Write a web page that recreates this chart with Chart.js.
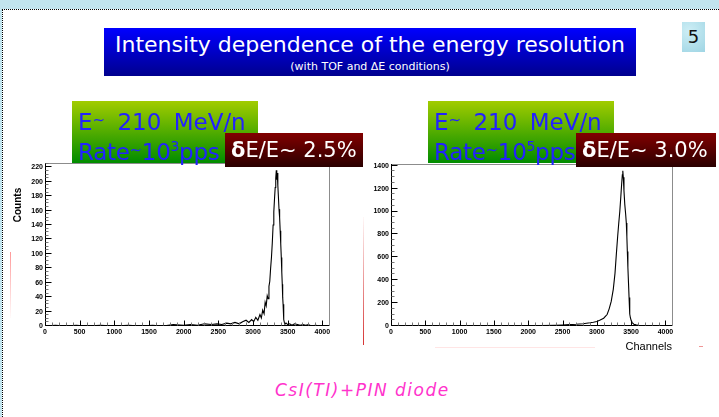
<!DOCTYPE html>
<html>
<head>
<meta charset="utf-8">
<script src="https://cdn.jsdelivr.net/npm/chart.js@4.4.1/dist/chart.umd.min.js"></script>
<style>
  html, body { margin: 0; padding: 0; }
  body {
    width: 719px; height: 417px; position: relative; overflow: hidden;
    background: #fff; font-family: "DejaVu Sans", sans-serif;
  }
  .abs { position: absolute; }
  .strip-top { left: 0; top: 0; width: 719px; height: 9px; background: #c2e4ee; }
  .strip-left { left: 0; top: 0; width: 2px; height: 417px; background: #c2e4ee; }
  .dots-top { left: 2px; top: 9px; width: 717px; height: 0; border-top: 1px dotted #000; }
  .dots-left { left: 2px; top: 9px; width: 0; height: 408px; border-left: 1px dotted #000; }

  .title {
    left: 104px; top: 28px; width: 532px; height: 48px;
    background: linear-gradient(#0000ff, #00008e); color: #fff; text-align: center;
  }
  .title .main { position: absolute; left: 0; right: 0; top: 3px; font-size: 22px; line-height: 28px; }
  .title .sub { position: absolute; left: 0; right: 0; top: 33px; font-size: 11px; line-height: 12px; }

  .page-no {
    left: 682px; top: 22px; width: 23px; height: 30px;
    background: radial-gradient(circle at 30% 30%, #cdeef5, #9fd5e4);
    color: #111; font-size: 18px; line-height: 30px; text-align: center;
  }

  .gbox {
    height: 62px; top: 101px;
    background: linear-gradient(#a2cc00, #008c00);
    color: #2222ff; font-size: 23px; line-height: 28px; padding: 5px 0 0 6px; box-sizing: border-box;
    white-space: nowrap;
  }
  .gbox .l1 { word-spacing: 5px; }
  .gbox .l2 { letter-spacing: -0.3px; }
  .gbox .t { font-size: 15px; vertical-align: 5px; }
  .gbox sup { font-size: 14px; line-height: 0; vertical-align: 9px; }
  .rbox {
    top: 133px; height: 34px;
    background: linear-gradient(#820000, #2a0000);
    color: #fff; font-size: 21px; line-height: 34px; padding-left: 6px; box-sizing: border-box;
    white-space: nowrap;
  }
  .rbox b { font-weight: bold; }

  .counts {
    left: 17px; top: 205px; font: bold 10px "Liberation Sans", Arial, sans-serif;
    transform: translate(-50%, -50%) rotate(-90deg); white-space: nowrap;
  }
  .foot {
    left: 275px; top: 380px; color: #ff33cc; font-size: 17px; font-style: italic;
    letter-spacing: 1.5px; white-space: nowrap;
  }
  canvas { position: absolute; }
</style>
</head>
<body>
  <div class="abs strip-top"></div>
  <div class="abs strip-left"></div>
  <div class="abs dots-top"></div>
  <div class="abs dots-left"></div>

  <canvas id="lowRateChart" width="345" height="205" style="left:0;top:150px;"></canvas>
  <canvas id="highRateChart" width="369" height="210" style="left:350px;top:150px;"></canvas>

  <div class="abs title">
    <div class="main">Intensity dependence of the energy resolution</div>
    <div class="sub">(with TOF and ΔE conditions)</div>
  </div>
  <div class="abs page-no">5</div>

  <div class="abs gbox" style="left:72px;width:186px;"><span class="l1">E<span class="t">~</span> 210 MeV/n</span><br><span class="l2">Rate<span class="t">~</span>10<sup>3</sup>pps</span></div>
  <div class="abs rbox" style="left:225px;width:138px;"><b>δ</b>E/E~ 2.5%</div>
  <div class="abs gbox" style="left:428px;width:186px;"><span class="l1">E<span class="t">~</span> 210 MeV/n</span><br><span class="l2">Rate<span class="t">~</span>10<sup>5</sup>pps</span></div>
  <div class="abs rbox" style="left:576px;width:140px;"><b>δ</b>E/E~ 3.0%</div>

  <div class="abs counts">Counts</div>

  <!-- faint marks left over on the slide -->
  <div class="abs" style="left:10px;top:252px;width:1px;height:66px;background:linear-gradient(rgba(255,110,110,0.7),rgba(255,210,210,0.1));"></div>
  <div class="abs" style="left:363px;top:217px;width:1px;height:128px;background:linear-gradient(rgba(255,220,220,0.2),rgba(210,30,30,0.9));"></div>
  <div class="abs" style="left:435px;top:347px;width:160px;height:1px;background:rgba(255,150,150,0.25);"></div>
  <div class="abs" style="left:699px;top:346px;width:4px;height:1px;background:rgba(230,80,80,0.6);"></div>

  <div class="abs foot">CsI(TI)+PIN diode</div>

<script>
// --- Data ---
const xTicks = [0, 500, 1000, 1500, 2000, 2500, 3000, 3500, 4000];

// Rate ~ 10^3 pps
const lowRateTicks = [0, 20, 40, 60, 80, 100, 120, 140, 160, 180, 200, 220];
const lowRateChannels = [
  0, 150, 300, 450, 600, 800, 1000, 1200, 1400, 1550, 1700, 1850, 2000, 2100, 2200, 2300,
  2400, 2480, 2550, 2620, 2680, 2740, 2800, 2850, 2900, 2940, 2980, 3010, 3040, 3070, 3100,
  3120, 3140, 3160, 3175, 3190, 3205, 3218, 3230, 3242, 3254, 3266, 3278, 3290, 3300, 3310,
  3320, 3328, 3336, 3343, 3350, 3358, 3366, 3375, 3384, 3392, 3400, 3408, 3415, 3422, 3428,
  3434, 3440, 3446, 3452, 3460, 3480, 3500, 3530, 3560, 3600, 3640, 3680, 3720, 3760, 3800,
  3840, 3900, 4000, 4096
];
const lowRateCounts = [
  0, 1, 0, 1, 0, 1, 0, 1, 0, 1, 0, 2, 1, 2, 1, 3,
  2, 3, 2, 4, 3, 5, 3, 6, 8, 5, 9, 6, 12, 8, 16,
  11, 22, 17, 33, 28, 42, 38, 55, 62, 80, 95, 115, 140, 158, 176,
  192, 205, 216, 203, 212, 195, 180, 162, 150, 132, 114, 95, 75, 58, 40,
  30, 18, 9, 5, 3, 4, 2, 3, 1, 3, 2, 1, 2, 1, 2,
  0, 1, 0, 0
];

// Rate ~ 10^5 pps
const highRateTicks = [0, 200, 400, 600, 800, 1000, 1200, 1400];
const highRateChannels = [
  0, 200, 400, 600, 800, 1000, 1200, 1400, 1600, 1800, 2000, 2200, 2400, 2500, 2600, 2700,
  2800, 2900, 2950, 3000, 3050, 3100, 3150, 3180, 3210, 3240, 3265, 3285, 3305, 3320, 3335,
  3350, 3362, 3372, 3379, 3386, 3396, 3408, 3420, 3430, 3438, 3445, 3453, 3462, 3470, 3477,
  3483, 3490, 3500, 3515, 3540, 3570, 3600, 3650, 3700, 3800, 3900, 4000, 4096
];
const highRateCounts = [
  0, 1, 0, 1, 1, 1, 2, 1, 2, 3, 4, 5, 7, 9, 12, 15,
  20, 28, 33, 40, 52, 68, 100, 150, 215, 320, 460, 630, 790, 900, 1000,
  1130, 1240, 1320, 1355, 1300, 1180, 1060, 980, 900, 780, 650, 510, 375, 250, 160,
  105, 70, 50, 30, 16, 10, 6, 4, 3, 2, 1, 0, 0
];

// --- ROOT style frame with inward major/minor ticks ---
const rootAxes = {
  id: "rootAxes",
  afterDatasetsDraw(chart, args, opts) {
    const { ctx, chartArea: a, scales } = chart;
    const left = Math.round(a.left) + 0.5;
    const bottom = Math.round(a.bottom) - 0.5;
    ctx.save();
    ctx.lineWidth = 1;
    ctx.strokeStyle = "#8c8c8c";
    ctx.strokeRect(left, Math.round(a.top) + 0.5, Math.round(a.right) - Math.round(a.left), Math.round(a.bottom) - Math.round(a.top) - 1);

    ctx.strokeStyle = "#000";
    ctx.beginPath();
    ctx.moveTo(left, a.top);
    ctx.lineTo(left, bottom);
    ctx.lineTo(a.right, bottom);
    ctx.stroke();

    // x ticks
    for (let v = 0; v <= scales.x.max; v += opts.xMinor) {
      const px = Math.round(scales.x.getPixelForValue(v)) + 0.5;
      const major = v % opts.xMajor === 0;
      ctx.strokeStyle = major ? "#000" : "#777";
      ctx.beginPath();
      ctx.moveTo(px, bottom);
      ctx.lineTo(px, bottom - (major ? 5 : 3));
      ctx.stroke();
    }
    // y ticks
    for (let v = 0; v <= scales.y.max; v += opts.yMinor) {
      const py = Math.round(scales.y.getPixelForValue(v)) - 0.5;
      const major = v % opts.yMajor === 0;
      ctx.strokeStyle = major ? "#000" : "#777";
      ctx.beginPath();
      ctx.moveTo(left, py);
      ctx.lineTo(left + (major ? 6 : 3), py);
      ctx.stroke();
    }
    ctx.restore();
  },
};

const tickFont = { family: "'Liberation Sans', Arial, sans-serif", size: 7, weight: "bold" };

function makeSpectrum(canvasId, channels, counts, yTicks, cfg) {
  const ctx = document.getElementById(canvasId).getContext("2d");
  return new Chart(ctx, {
    type: "line",
    data: {
      datasets: [
        {
          data: channels.map((c, i) => ({ x: c, y: counts[i] })),
          borderColor: "#000",
          borderWidth: 1.1,
          pointRadius: 0,
          tension: 0,
          fill: false,
        },
      ],
    },
    options: {
      responsive: false,
      animation: false,
      layout: { padding: cfg.padding },
      plugins: {
        legend: { display: false },
        tooltip: { enabled: false },
        rootAxes: { xMinor: 100, xMajor: 500, yMinor: cfg.yMinor, yMajor: cfg.yMajor },
      },
      scales: {
        x: {
          type: "linear",
          min: 0,
          max: 4096,
          afterBuildTicks: (s) => { s.ticks = xTicks.map((v) => ({ value: v })); },
          afterFit: (s) => { s.height = cfg.xHeight; },
          grid: { display: false, drawTicks: false },
          border: { display: false },
          ticks: { font: tickFont, color: "#000", padding: 1.5, maxRotation: 0, autoSkip: false,
                   callback: (v) => String(v) },
          title: cfg.xTitle
            ? { display: true, text: cfg.xTitle, align: "end", color: "#000",
                font: { family: "'Liberation Sans', Arial, sans-serif", size: 11 }, padding: { top: 0, bottom: 6 } }
            : { display: false },
        },
        y: {
          type: "linear",
          min: 0,
          max: cfg.yMax,
          afterBuildTicks: (s) => { s.ticks = yTicks.map((v) => ({ value: v })); },
          afterFit: (s) => { s.width = cfg.yWidth; },
          grid: { display: false, drawTicks: false },
          border: { display: false },
          ticks: { font: tickFont, color: "#000", padding: 2, autoSkip: false,
                   callback: (v) => String(v) },
        },
      },
    },
    plugins: [rootAxes],
  });
}

// Low rate spectrum (left)
makeSpectrum("lowRateChart", lowRateChannels, lowRateCounts, lowRateTicks, {
  yMax: 226, yMinor: 5, yMajor: 20, yWidth: 45, xHeight: 29,
  padding: { top: 13, right: 16, left: 0, bottom: 0 },
});

// High rate spectrum (right)
makeSpectrum("highRateChart", highRateChannels, highRateCounts, highRateTicks, {
  yMax: 1415, yMinor: 50, yMajor: 200, yWidth: 41, xHeight: 34, xTitle: "Channels",
  padding: { top: 14, right: 47, left: 0, bottom: 0 },
});
</script>
</body>
</html>
